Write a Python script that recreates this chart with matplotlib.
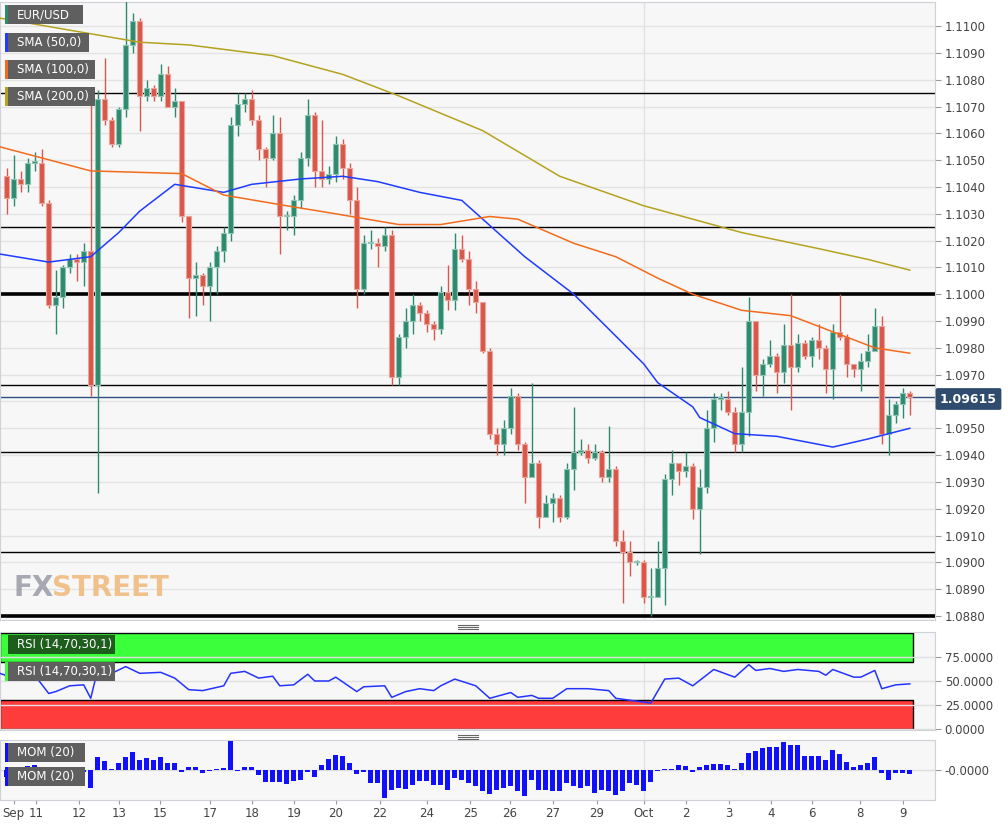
import matplotlib.pyplot as plt
from matplotlib.patches import FancyBboxPatch
import numpy as np

# 4h candles, EUR/USD, Sep 11 - Oct 9
opens0 = 1.1044
closes = [1.1036, 1.1043, 1.1041, 1.1049, 1.1049, 1.1034, 1.0996, 1.0999, 1.1010, 1.1013,
          1.1012, 1.1016, 1.0966, 1.1073, 1.1065, 1.1056, 1.1069, 1.1093, 1.1102, 1.1074,
          1.1077, 1.1074, 1.1082, 1.1070, 1.1072, 1.1029, 1.1006, 1.1007, 1.1003, 1.1010,
          1.1016, 1.1023, 1.1063, 1.1071, 1.1073, 1.1065, 1.1054, 1.1051, 1.1060, 1.1029,
          1.1029, 1.1035, 1.1051, 1.1067, 1.1046, 1.1043, 1.1045, 1.1056, 1.1047, 1.1035,
          1.1002, 1.1019, 1.1019, 1.1018, 1.1022, 1.0969, 1.0984, 1.0990, 1.0996, 1.0993,
          1.0989, 1.0987, 1.1001, 1.0998, 1.1017, 1.1013, 1.1002, 1.0997, 1.0979, 1.0948,
          1.0944, 1.0950, 1.0962, 1.0944, 1.0932, 1.0937, 1.0917, 1.0922, 1.0924, 1.0917,
          1.0935, 1.0941, 1.0942, 1.0939, 1.0941, 1.0932, 1.0935, 1.0908, 1.0904, 1.0900,
          1.0900, 1.0887, 1.0887, 1.0898, 1.0931, 1.0937, 1.0934, 1.0936, 1.0920, 1.0928,
          1.0950, 1.0961, 1.0961, 1.0956, 1.0944, 1.0956, 1.0990, 1.0970, 1.0974, 1.0977,
          1.0971, 1.0981, 1.0973, 1.0982, 1.0977, 1.0983, 1.0980, 1.0972, 1.0986, 1.0984,
          1.0974, 1.0972, 1.0975, 1.0979, 1.0988, 1.0948, 1.0955, 1.0959, 1.0963, 1.09615]
highs = [1.1047, 1.1052, 1.1046, 1.1051, 1.1053, 1.1054, 1.1035, 1.1009, 1.1011, 1.1015,
         1.1015, 1.1019, 1.1072, 1.1076, 1.1088, 1.1066, 1.1070, 1.1110, 1.1105, 1.1103,
         1.1080, 1.1078, 1.1086, 1.1085, 1.1077, 1.1072, 1.1019, 1.1012, 1.1008, 1.1012,
         1.1018, 1.1025, 1.1066, 1.1075, 1.1075, 1.1076, 1.1067, 1.1055, 1.1067, 1.1066,
         1.1031, 1.1037, 1.1053, 1.1073, 1.1068, 1.1065, 1.1048, 1.1059, 1.1058, 1.1049,
         1.1040, 1.1022, 1.1024, 1.1021, 1.1025, 1.1024, 1.0985, 1.0995, 1.1000, 1.0997,
         1.0994, 1.0990, 1.1003, 1.1011, 1.1023, 1.1022, 1.1016, 1.1005, 1.0997, 1.0980,
         1.0950, 1.0953, 1.0965, 1.0963, 1.0945, 1.0967, 1.0938, 1.0925, 1.0926, 1.0925,
         1.0937, 1.0958, 1.0946, 1.0944, 1.0944, 1.0942, 1.0951, 1.0936, 1.0912, 1.0908,
         1.0901, 1.0901, 1.0898, 1.0908, 1.0933, 1.0942, 1.0937, 1.0941, 1.0937, 1.0935,
         1.0957, 1.0963, 1.0963, 1.0964, 1.0958, 1.0973, 1.0999, 1.0990, 1.0976, 1.0983,
         1.0978, 1.0989, 1.1000, 1.0985, 1.0983, 1.0984, 1.0989, 1.0981, 1.0989, 1.1000,
         1.0985, 1.0974, 1.0978, 1.0985, 1.0995, 1.0992, 1.0961, 1.0960, 1.0965, 1.0964]
lows = [1.1030, 1.1033, 1.1038, 1.1038, 1.1046, 1.1033, 1.0995, 1.0985, 1.0995, 1.1008,
        1.1005, 1.1003, 1.0962, 1.0926, 1.1063, 1.1055, 1.1055, 1.1066, 1.1090, 1.1061,
        1.1072, 1.1072, 1.1072, 1.1070, 1.1066, 1.1027, 1.0991, 1.0992, 1.0996, 1.0990,
        1.1000, 1.1012, 1.1020, 1.1059, 1.1068, 1.1063, 1.1050, 1.1040, 1.1050, 1.1015,
        1.1024, 1.1022, 1.1032, 1.1048, 1.1040, 1.1040, 1.1041, 1.1042, 1.1043, 1.1030,
        1.0995, 1.1000, 1.1017, 1.1010, 1.1016, 1.0966, 1.0966, 1.0980, 1.0985, 1.0990,
        1.0986, 1.0983, 1.0985, 1.0994, 1.0994, 1.1012, 1.0996, 1.0993, 1.0978, 1.0946,
        1.0940, 1.0940, 1.0948, 1.0942, 1.0922, 1.0935, 1.0913, 1.0918, 1.0915, 1.0915,
        1.0916, 1.0927, 1.0940, 1.0937, 1.0938, 1.0930, 1.0930, 1.0906, 1.0885, 1.0895,
        1.0899, 1.0885, 1.0880, 1.0896, 1.0884, 1.0925, 1.0929, 1.0932, 1.0916, 1.0903,
        1.0926, 1.0945, 1.0957, 1.0955, 1.0941, 1.0941, 1.0947, 1.0964, 1.0962, 1.0973,
        1.0963, 1.0967, 1.0957, 1.0971, 1.0976, 1.0973, 1.0976, 1.0963, 1.0961, 1.0983,
        1.0969, 1.0969, 1.0964, 1.0973, 1.0979, 1.0944, 1.0940, 1.0952, 1.0954, 1.0955]

sma50_idx = [-1, 6, 12, 16, 19, 24, 31, 35, 42, 48, 53, 59, 65, 74, 81, 91, 93, 98, 99, 104, 110, 118, 123, 126, 129]
sma50_val = [1.1015, 1.1012, 1.1014, 1.1023, 1.1031, 1.1041, 1.1038, 1.1041, 1.1043, 1.1044, 1.1042, 1.1038, 1.1035,
             1.1014, 1.1000, 1.0974, 1.0967, 1.0958, 1.0954, 1.0948, 1.0947, 1.0943, 1.0946, 1.0948, 1.0950]
sma100_idx = [-1, 12, 25, 31, 40, 47, 56, 62, 69, 73, 81, 87, 93, 98, 105, 112, 117, 124, 129]
sma100_val = [1.1055, 1.1046, 1.1045, 1.1037, 1.1033, 1.1030, 1.1026, 1.1026, 1.1029, 1.1028, 1.1019, 1.1014,
              1.1006, 1.1000, 1.0994, 1.0992, 1.0987, 1.0980, 1.0978]
sma200_idx = [-1, 19, 26, 38, 48, 56, 68, 79, 91, 105, 116, 123, 129]
sma200_val = [1.1103, 1.1094, 1.1093, 1.1089, 1.1082, 1.1074, 1.1061, 1.1044, 1.1033, 1.1023, 1.1017, 1.1013, 1.1009]

levels_thin = [1.1075, 1.1025, 1.0966, 1.0941, 1.0904]
levels_thick = [1.1000, 1.0880]
last_price = 1.09615

rsi_idx = [-1, 1, 4, 6, 7, 9, 11, 12, 13, 15, 17, 19, 22, 24, 26, 28, 31, 32, 34, 36, 38, 39, 41, 43, 44, 46,
           47, 50, 51, 54, 55, 57, 59, 61, 62, 64, 67, 69, 72, 73, 75, 76, 78, 80, 83, 86, 87, 90, 92, 94, 96,
           98, 101, 104, 106, 107, 109, 111, 113, 116, 117, 118, 121, 122, 124, 125, 127, 129]
rsi_val = [58, 53, 56, 37, 39, 45, 46, 32, 62, 58, 65, 58, 59, 53, 41, 40, 45, 58, 60, 53, 55, 45, 46, 57, 50, 50,
           54, 39, 44, 45, 33, 39, 42, 40, 45, 52, 45, 32, 38, 33, 35, 32, 32, 42, 42, 40, 32, 29, 27, 52, 53,
           45, 62, 54, 67, 61, 63, 60, 62, 60, 56, 62, 54, 54, 61, 42, 46, 47]

mom = [-20, -5, 3, 12, 15, -18, -20, -20, -18, -15, -12, -5, -55, 40, 28, 2, 20, 40, 55, 30,
       38, 30, 40, 20, 20, -5, 10, 8, -8, -3, 3, 5, 88, -3, 10, 10, -15, -38, -38, -38,
       -42, -35, -30, -5, -20, 15, 35, 45, 42, 20, -12, -5, -40, -40, -85, -60, -55, -58, -45, -35,
       -35, -45, -45, -60, -25, -30, -40, -50, -65, -75, -60, -55, -50, -65, -80, -30, -60, -60, -65, -65,
       -40, -50, -55, -50, -70, -60, -65, -78, -65, -40, -45, -65, -38, -2, 2, 2, 15, 12, -5, 10,
       15, 18, 18, 15, 3, 22, 52, 58, 68, 70, 70, 85, 78, 78, 42, 42, 42, 30, 62, 50,
       25, 10, 15, 20, 40, -10, -30, -10, -8, -12]

date_idx = [1.0, 4.2, 10.3, 16.0, 21.9, 29.0, 35.0, 41.0, 47.0, 53.3, 60.0, 66.2, 71.9, 78.0, 84.3,
            91.0, 97.0, 103.2, 109.2, 115.0, 121.9, 128.0]
date_lbl = ['Sep', '11', '12', '13', '15', '17', '18', '19', '20', '22', '24', '25', '26', '27', '29',
            'Oct', '2', '3', '4', '6', '8', '9']

GREEN = '#2e8a6e'
RED = '#d9574a'
BG = '#f7f7f7'
xlo, xhi = -0.96, 132.6

fig = plt.figure(figsize=(10.08, 8.26), dpi=100, facecolor='white')
ax = fig.add_axes([0, 206 / 826, 935 / 1008, 618 / 826])
ar = fig.add_axes([0, 96 / 826, 935 / 1008, 98 / 826])
am = fig.add_axes([0, 26 / 826, 935 / 1008, 60 / 826])

for a in (ax, ar, am):
    a.set_facecolor(BG)
    a.set_xlim(xlo, xhi)
    a.yaxis.tick_right()
    a.tick_params(axis='y', labelsize=8.5, labelcolor='#444', length=4, color='#999', pad=3)
    for s in a.spines.values():
        s.set_color('#d0d0d8')
    a.axvline(91.0, color='#e2e2e2', lw=1, zorder=0)

# main price panel
ax.set_ylim(1.08785, 1.1109)
ticks = np.arange(1.0880, 1.11005, 0.001)
ax.set_yticks(ticks)
# the 1.0960 label is hidden under the last-price tag
ax.set_yticklabels(['' if abs(t - 1.0960) < 1e-6 else f'{t:.4f}' for t in ticks])
ax.grid(axis='y', color='#e3e3e3', lw=1)
ax.set_axisbelow(True)
ax.set_xticks([])

n = len(closes)
idx = np.arange(n)
opens = np.array([opens0] + closes[:-1])
cl = np.array(closes)
up = cl >= opens
cols = np.where(up, GREEN, RED)
ax.vlines(idx, lows, highs, colors=cols, lw=1, zorder=3)
body_lo = np.minimum(opens, cl)
body_h = np.maximum(np.abs(cl - opens), 0.00006)
ax.bar(idx, body_h, bottom=body_lo, width=0.72, color=cols, edgecolor=np.where(up, '#8fc4b4', '#eba49c'),
       lw=0.8, zorder=4)

for lv in levels_thin:
    ax.axhline(lv, color='black', lw=1, zorder=2)
for lv in levels_thick:
    ax.axhline(lv, color='black', lw=2.6, zorder=2)
ax.axhline(last_price, color='#2f4f7f', lw=1, zorder=2)

ax.plot(sma50_idx, sma50_val, color='#1f3cff', lw=1.1, zorder=5)
ax.plot(sma100_idx, sma100_val, color='#f26b1d', lw=1.1, zorder=5)
ax.plot(sma200_idx, sma200_val, color='#b5a21e', lw=1.1, zorder=5)

fig.text(940 / 1008, 1 - 399 / 826, f'{last_price:.5f}', ha='left', va='center', color='white', fontsize=9,
         fontweight='bold', zorder=30,
         bbox=dict(boxstyle='round,pad=0.35,rounding_size=0.15', fc='#2f4b6e', ec='none'))


def label(y, txt, stripe, w=80, fc='#5f5f5f'):
    fx = 5 / 1008
    fy = 1 - y / 826
    fig.patches.append(FancyBboxPatch((fx, fy - 20 / 826), w / 1008, 19 / 826, boxstyle='square,pad=0',
                                      transform=fig.transFigure, fc=fc, ec='none', zorder=20))
    fig.patches.append(FancyBboxPatch((fx, fy - 20 / 826), 2.5 / 1008, 19 / 826, boxstyle='square,pad=0',
                                      transform=fig.transFigure, fc=stripe, ec='none', zorder=21))
    fig.text(fx + 12 / 1008, fy - 10.5 / 826, txt, color='white', fontsize=8.5, va='center', ha='left',
             zorder=22)


label(4, 'EUR/USD', '#2e8a6e', 78)
label(32, 'SMA (50,0)', '#1f3cff', 84)
label(59, 'SMA (100,0)', '#f26b1d', 90)
label(86, 'SMA (200,0)', '#b5a21e', 90)

fig.text(14 / 1008, 1 - 588 / 826, 'FX', color='#9a9aa8', fontsize=20, fontweight='bold', ha='left',
         va='center', alpha=0.85)
fig.text(52 / 1008, 1 - 588 / 826, 'STREET', color='#f0b878', fontsize=20, fontweight='bold', ha='left',
         va='center', alpha=0.85)

# RSI panel
ar.set_ylim(-1, 101)
ar.set_yticks([0, 25, 50, 75])
ar.set_yticklabels(['0.0000', '25.0000', '50.0000', '75.0000'])
ar.grid(axis='y', color='#e0e0e0', lw=1)
ar.set_xticks([])
ar.fill_between([xlo, 129.5], 70, 100, color='#3cff3c', ec='black', lw=1, zorder=1)
ar.fill_between([xlo, 129.5], 0, 30, color='#ff3c3c', ec='black', lw=1, zorder=1)
ar.plot(rsi_idx, rsi_val, color='#2433ff', lw=1.1, zorder=3)
label(634, 'RSI (14,70,30,1)', '#3cff3c', 110, '#1d5e1d')
label(661, 'RSI (14,70,30,1)', '#3cff3c', 110)

# MOM panel
am.set_ylim(-92, 92)
am.set_yticks([0])
am.set_yticklabels(['-0.0000'])
am.axhline(0, color='#dddddd', lw=1, zorder=0)
am.bar(idx, mom, width=0.75, color='#1010ff', zorder=3)
am.set_xticks(date_idx)
am.set_xticklabels(date_lbl)
am.tick_params(axis='x', labelsize=8.5, labelcolor='#444', length=3, color='#999', pad=2)
label(742, 'MOM (20)', '#1010ff', 80)
label(766, 'MOM (20)', '#1010ff', 80)

for yy in (627, 737):
    for dy in (-2, 0, 2):
        fig.add_artist(plt.Line2D([458 / 1008, 478 / 1008], [1 - (yy + dy) / 826] * 2, color='#666', lw=0.8))

fig.savefig('out.png', dpi=100, facecolor='white')
